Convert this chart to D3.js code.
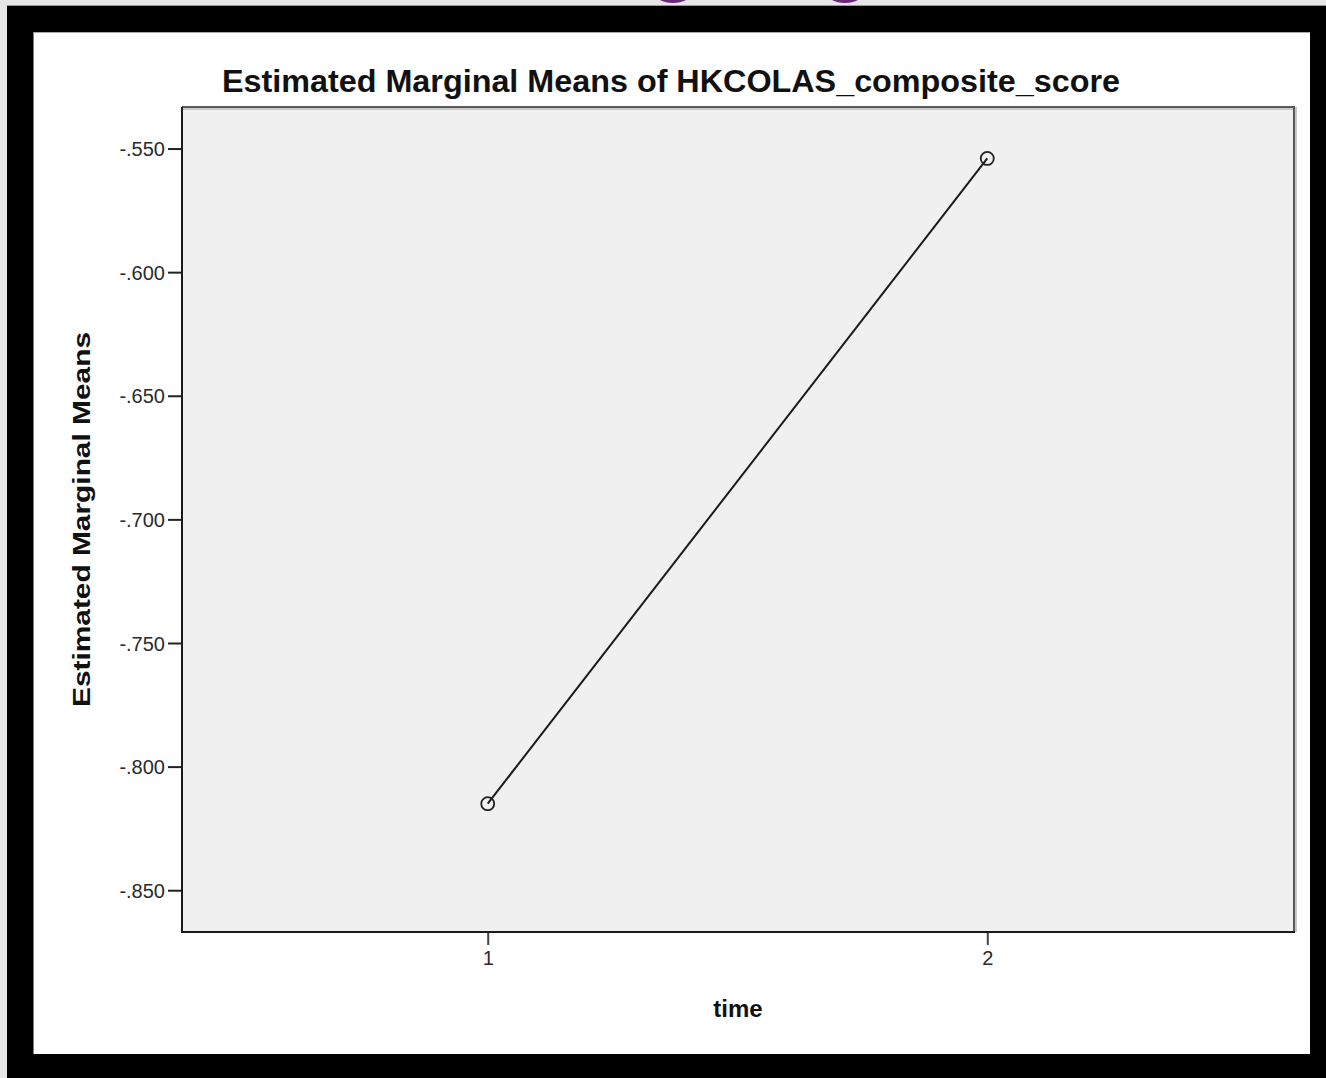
<!DOCTYPE html>
<html>
<head>
<meta charset="utf-8">
<script src="https://cdn.jsdelivr.net/npm/d3@7"></script>
<style>
html,body{margin:0;padding:0;background:#000;}
svg{display:block;}
</style>
</head>
<body>
<svg id="chart" width="1326" height="1078"></svg>
<script>
// ---- data ----
const timeCategories = [1, 2];
const meanValues = [-0.815, -0.554];
const yTickValues = [-0.550, -0.600, -0.650, -0.700, -0.750, -0.800, -0.850];
const yTickLabels = ["-.550", "-.600", "-.650", "-.700", "-.750", "-.800", "-.850"];
const xTickLabels = ["1", "2"];
const titleText = "Estimated Marginal Means of HKCOLAS_composite_score";
const yAxisTitle = "Estimated Marginal Means";
const xAxisTitle = "time";

const svg = d3.select("#chart");
const font = "'Liberation Sans', Arial, sans-serif";

// outer background & frame
svg.append("rect").attr("x",0).attr("y",0).attr("width",1326).attr("height",1078).attr("fill","#000");
svg.append("rect").attr("x",0).attr("y",0).attr("width",1326).attr("height",5).attr("fill","#e6e6e6");
svg.append("rect").attr("x",0).attr("y",0).attr("width",7).attr("height",1078).attr("fill","#e6e6e6");
svg.append("line").attr("x1",7).attr("x2",1326).attr("y1",5.5).attr("y2",5.5).attr("stroke","#9a9a9a").attr("stroke-width",1);
// purple descenders from cropped text above
const clip = svg.append("defs").append("clipPath").attr("id","topclip");
clip.append("rect").attr("x",0).attr("y",0).attr("width",1326).attr("height",5);
const purple = svg.append("g").attr("clip-path","url(#topclip)");
purple.append("ellipse").attr("cx",673).attr("cy",-8).attr("rx",19).attr("ry",11).attr("fill","#6a2a7c");
purple.append("ellipse").attr("cx",845).attr("cy",-8).attr("rx",19).attr("ry",11).attr("fill","#6a2a7c");

// white panel
svg.append("rect").attr("x",33.5).attr("y",32).attr("width",1276.5).attr("height",1022).attr("fill","#fff");
svg.append("line").attr("x1",33.5).attr("x2",1310).attr("y1",32.5).attr("y2",32.5).attr("stroke","#aaa").attr("stroke-width",1);

// plot area
const L = 182, R = 1294, T = 107, B = 932;
const x = d3.scaleLinear().domain([0.388, 2.614]).range([L, R]);
const y = d3.scaleLinear().domain([-0.8669, -0.5332]).range([B, T]);

svg.append("rect").attr("x",L).attr("y",T).attr("width",R-L).attr("height",B-T).attr("fill","#f0f0f0");
// top/right frame (gray with soft shadow)
svg.append("path").attr("d",`M${L},${T+1.5}H${R+1.5}V${B}`).attr("fill","none").attr("stroke","#c8c8c8").attr("stroke-width",3);
svg.append("path").attr("d",`M${L},${T}H${R}V${B}`).attr("fill","none").attr("stroke","#5a5a5a").attr("stroke-width",2);

// y axis
const yAxis = d3.axisLeft(y).tickValues(yTickValues).tickSize(14).tickPadding(3)
  .tickFormat((d,i)=>yTickLabels[i]);
const gy = svg.append("g").attr("transform",`translate(${L},0)`).call(yAxis);
gy.select(".domain").remove();
gy.selectAll(".tick line").attr("stroke","#222").attr("stroke-width",2);
gy.selectAll(".tick text").attr("font-family",font).attr("font-size",20).attr("fill","#2a2a2a").attr("dy","0.36em");

// x axis
const xAxis = d3.axisBottom(x).tickValues(timeCategories).tickSize(13).tickPadding(6)
  .tickFormat((d,i)=>xTickLabels[i]);
const gx = svg.append("g").attr("transform",`translate(0,${B})`).call(xAxis);
gx.select(".domain").remove();
gx.selectAll(".tick line").attr("stroke","#444").attr("stroke-width",2);
gx.selectAll(".tick text").attr("font-family",font).attr("font-size",20).attr("fill","#2a2a2a");

// left & bottom axis lines
svg.append("path").attr("d",`M${L},${T}V${B}H${R+1}`).attr("fill","none").attr("stroke","#1a1a1a").attr("stroke-width",2);

// line + markers
const pts = timeCategories.map((t,i)=>[t, meanValues[i]]);
svg.append("path").datum(pts)
  .attr("d", d3.line().x(d=>x(d[0])).y(d=>y(d[1])))
  .attr("fill","none").attr("stroke","#1a1a1a").attr("stroke-width",2);
svg.selectAll("circle.pt").data(pts).join("circle").attr("class","pt")
  .attr("cx",d=>x(d[0])).attr("cy",d=>y(d[1])).attr("r",6.5)
  .attr("fill","none").attr("stroke","#222").attr("stroke-width",1.8);

// title
svg.append("text").attr("x",671).attr("y",92).attr("text-anchor","middle")
  .attr("font-family",font).attr("font-weight","bold").attr("font-size",31)
  .attr("textLength",898).attr("lengthAdjust","spacingAndGlyphs")
  .attr("fill","#111").text(titleText);

// y title
svg.append("text").attr("transform",`translate(90,${(T+B)/2}) rotate(-90)`)
  .attr("text-anchor","middle").attr("font-family",font).attr("font-weight","bold")
  .attr("font-size",24).attr("textLength",375).attr("lengthAdjust","spacingAndGlyphs")
  .attr("fill","#111").text(yAxisTitle);

// x title
svg.append("text").attr("x",(L+R)/2).attr("y",1017).attr("text-anchor","middle")
  .attr("font-family",font).attr("font-weight","bold").attr("font-size",24)
  .attr("fill","#111").text(xAxisTitle);
</script>
</body>
</html>
